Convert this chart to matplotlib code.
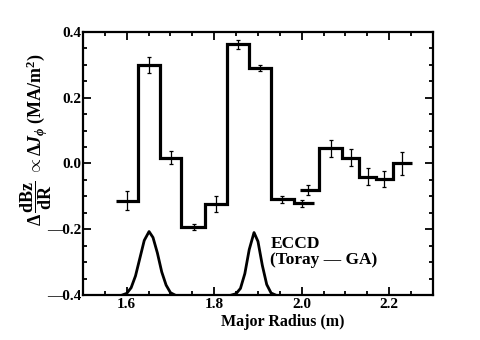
import matplotlib
matplotlib.use('Agg')
import matplotlib.pyplot as plt
from matplotlib.ticker import MultipleLocator, FuncFormatter

# measured current profile, drawn as two step groups (bin edges / bin values)
edges_a = [1.576, 1.626, 1.677, 1.724, 1.779, 1.829, 1.880, 1.930, 1.982, 2.027]
vals_a = [-0.113, 0.300, 0.018, -0.193, -0.124, 0.362, 0.290, -0.109, -0.121]
edges_b = [1.995, 2.040, 2.092, 2.131, 2.171, 2.209, 2.252]
vals_b = [-0.081, 0.046, 0.018, -0.040, -0.047, 0.000]

# data points with error bars
pt_r = [1.600, 1.651, 1.702, 1.753, 1.804, 1.855, 1.905, 1.955, 2.000,
        2.015, 2.068, 2.112, 2.152, 2.189, 2.230]
pt_j = [-0.113, 0.300, 0.018, -0.193, -0.124, 0.362, 0.290, -0.109, -0.121,
        -0.081, 0.046, 0.018, -0.040, -0.047, 0.000]
pt_err = [0.030, 0.025, 0.020, 0.010, 0.025, 0.015, 0.010, 0.010, 0.010,
          0.015, 0.025, 0.025, 0.025, 0.025, 0.035]

# ECCD deposition profiles (Toray-GA)
eccd1_r = [1.59, 1.60, 1.61, 1.62, 1.63, 1.64, 1.651, 1.66, 1.67, 1.68, 1.69, 1.70, 1.71]
eccd1_j = [-0.400, -0.395, -0.378, -0.342, -0.288, -0.234, -0.207, -0.225,
           -0.272, -0.330, -0.370, -0.393, -0.400]
eccd2_r = [1.84, 1.85, 1.86, 1.87, 1.88, 1.891, 1.90, 1.91, 1.92, 1.93, 1.94]
eccd2_j = [-0.400, -0.396, -0.380, -0.335, -0.262, -0.210, -0.237, -0.310,
           -0.368, -0.394, -0.400]

plt.rcParams['font.family'] = ['Liberation Serif', 'DejaVu Serif']
plt.rcParams['font.weight'] = 'bold'
plt.rcParams['mathtext.fontset'] = 'custom'
plt.rcParams['mathtext.rm'] = 'Liberation Serif:bold'
plt.rcParams['mathtext.it'] = 'Liberation Serif:bold:italic'
plt.rcParams['mathtext.bf'] = 'Liberation Serif:bold'

fig = plt.figure(figsize=(4.81, 3.40), dpi=100)
ax = fig.add_axes([0.1726, 0.1324, 0.7274, 0.7735])

ax.stairs(vals_a, edges_a, baseline=None, color='black', linewidth=2.3)
ax.stairs(vals_b, edges_b, baseline=None, color='black', linewidth=2.3)
ax.errorbar(pt_r, pt_j, yerr=pt_err, fmt='_', color='black', markersize=8,
            markeredgewidth=0.9, elinewidth=0.9, capsize=1.5, capthick=0.9)

ax.plot(eccd1_r, eccd1_j, color='black', linewidth=2.0)
ax.plot(eccd2_r, eccd2_j, color='black', linewidth=2.0)

ax.text(1.928, -0.268, 'ECCD\n(Toray \u2014 GA)', fontsize=12.5, fontweight='bold',
        va='center', ha='left', linespacing=1.0)

ax.set_xlim(1.5, 2.3)
ax.set_ylim(-0.4, 0.4)
ax.xaxis.set_major_locator(MultipleLocator(0.2))
ax.xaxis.set_minor_locator(MultipleLocator(0.05))
ax.yaxis.set_major_locator(MultipleLocator(0.2))
ax.yaxis.set_minor_locator(MultipleLocator(0.05))
ax.yaxis.set_major_formatter(FuncFormatter(
    lambda v, p: ('\u2014%.1f' % abs(v)) if v < -1e-9 else '%.1f' % abs(v)))
ax.xaxis.set_major_formatter(FuncFormatter(lambda v, p: '%.1f' % v))

ax.tick_params(which='both', direction='in', top=True, right=True,
               labelsize=11, width=1.3)
ax.tick_params(which='major', length=6, pad=2)
ax.tick_params(axis='y', which='major', pad=1)
ax.tick_params(which='minor', length=3)
for lab in ax.get_xticklabels() + ax.get_yticklabels():
    lab.set_fontweight('bold')
for s in ax.spines.values():
    s.set_linewidth(1.6)

fig.text(0.075, 0.59,
         r'$\Delta\,\dfrac{\mathrm{dBz}}{\mathrm{dR}}\ \propto\Delta J_\phi$ (MA/m$^2$)',
         rotation=90, fontsize=13, fontweight='bold', ha='center', va='center')
fig.text(0.588, 0.052, 'Major Radius (m)', fontsize=11.5, fontweight='bold',
         ha='center', va='center')

fig.savefig('out.png', dpi=100)
